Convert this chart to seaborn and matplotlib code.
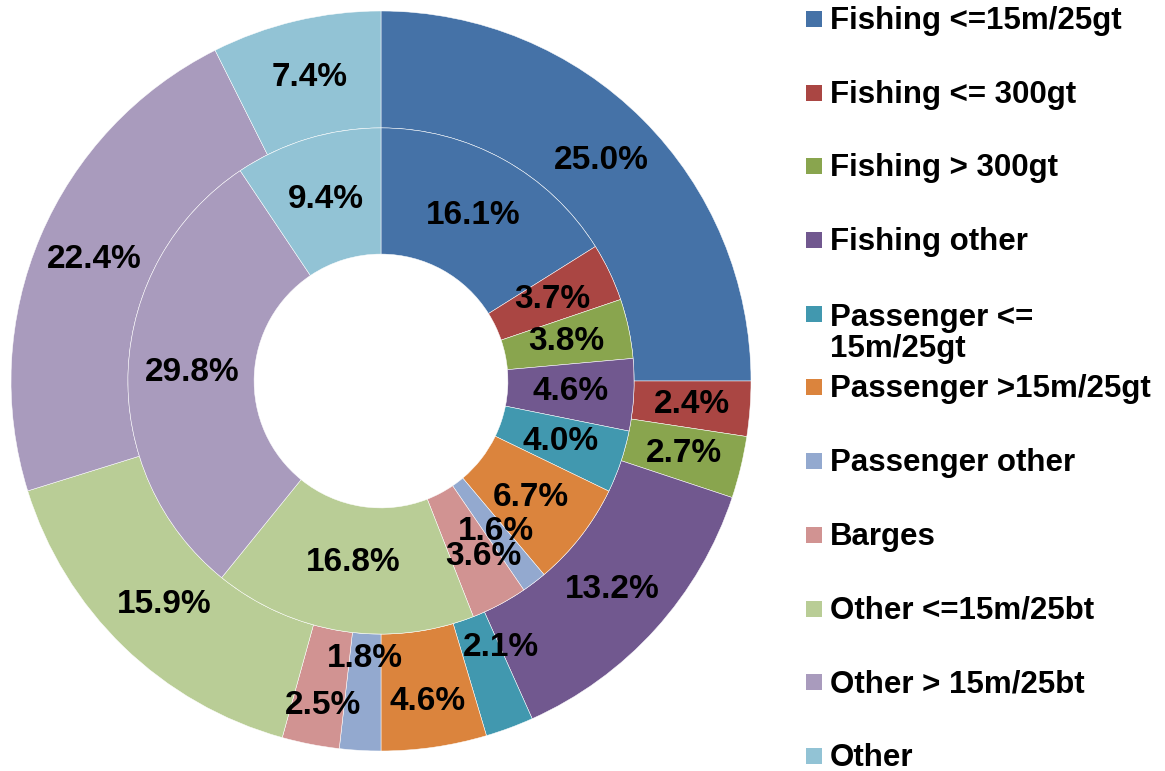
import numpy as np
import matplotlib
matplotlib.use("Agg")
import matplotlib.pyplot as plt
from matplotlib.patches import Rectangle
import seaborn as sns

categories = ["Fishing <=15m/25gt", "Fishing <= 300gt", "Fishing > 300gt", "Fishing other",
              "Passenger <=\n15m/25gt", "Passenger >15m/25gt", "Passenger other", "Barges",
              "Other <=15m/25bt", "Other > 15m/25bt", "Other"]
outer_values = [25.0, 2.4, 2.7, 13.2, 2.1, 4.6, 1.8, 2.5, 15.9, 22.4, 7.4]
inner_values = [16.1, 3.7, 3.8, 4.6, 4.0, 6.7, 1.6, 3.6, 16.8, 29.8, 9.4]
colors = ["#4572A7", "#AA4643", "#89A54E", "#71588F", "#4198AF", "#DB843D",
          "#93A9CF", "#D19392", "#B9CD96", "#A99BBD", "#92C3D5"]

sns.set_theme(style="white")
plt.rcParams["font.family"] = ["Liberation Sans", "DejaVu Sans"]
palette = sns.color_palette(colors)

W, H = 1165, 771
fig = plt.figure(figsize=(W / 100, H / 100), dpi=100)
cx, cy, R = 381, 381, 370
ax = fig.add_axes([(cx - R) / W, (H - cy - R) / H, 2 * R / W, 2 * R / H])

r_outer, r_mid, r_hole = 1.0, 0.684, 0.343
edge = dict(edgecolor="white", linewidth=0.35)
w_out, _ = ax.pie(outer_values, radius=r_outer, colors=palette, startangle=90,
                  counterclock=False, wedgeprops=dict(width=r_outer - r_mid, **edge))
w_in, _ = ax.pie(inner_values, radius=r_mid, colors=palette, startangle=90,
                 counterclock=False, wedgeprops=dict(width=r_mid - r_hole, **edge))
ax.set_xlim(-1, 1)
ax.set_ylim(-1, 1)
ax.set_aspect("equal")
ax.axis("off")

# label placement tweaks: index -> (radius, clockwise angle offset in degrees)
outer_adj = {4: (0.79, -3.9), 5: (0.874, 0), 6: (0.75, 0), 7: (0.892, -0.9)}
inner_adj = {7: (0.55, -2.3), 8: (0.497, 0)}


def label_ring(wedges, values, default_r, adj):
    for i, (wd, v) in enumerate(zip(wedges, values)):
        theta = 0.5 * (wd.theta1 + wd.theta2)
        phi = 90 - theta
        r, dphi = adj.get(i, (default_r, 0))
        phi = np.deg2rad(phi + dphi)
        ax.text(r * np.sin(phi), r * np.cos(phi), f"{v:.1f}%", ha="center", va="center",
                fontsize=24, fontweight="bold", color="black")


label_ring(w_out, outer_values, 0.842, outer_adj)
label_ring(w_in, inner_values, 0.512, inner_adj)

# legend
row0, step, line_gap = 19, 73.7, 33
for i, (lab, col) in enumerate(zip(categories, palette)):
    yc = row0 + step * i
    fig.patches.append(Rectangle((806 / W, 1 - (yc + 8) / H), 16 / W, 16 / H,
                                 transform=fig.transFigure, facecolor=col, edgecolor="none"))
    extra = line_gap * (lab.count("\n"))
    fig.text(830 / W, 1 - (yc + 10 + extra) / H, lab, ha="left", va="baseline", fontsize=22.5,
             fontweight="bold", color="black", linespacing=1.05)

fig.savefig("out.png", dpi=100)
